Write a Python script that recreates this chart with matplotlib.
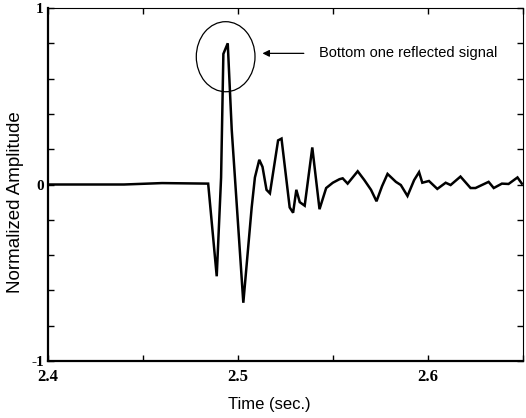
import matplotlib
matplotlib.use("Agg")
import matplotlib.pyplot as plt
from matplotlib.patches import Ellipse
from matplotlib import font_manager

time_s = [2.400, 2.440, 2.460, 2.4843, 2.4888, 2.4911, 2.4923, 2.4946, 2.4967,
          2.5028, 2.5072, 2.5089, 2.5112, 2.5129, 2.5150, 2.5168, 2.5211, 2.5229,
          2.5272, 2.5290, 2.5307, 2.5325, 2.5351, 2.5391, 2.5429, 2.5464, 2.5499,
          2.5534, 2.5551, 2.5577, 2.5630, 2.5665, 2.5700, 2.5729, 2.5758, 2.5787,
          2.5831, 2.5857, 2.5892, 2.5927, 2.5953, 2.5970, 2.6005, 2.6049, 2.6093,
          2.6119, 2.6171, 2.6224, 2.6250, 2.6319, 2.6346, 2.6389, 2.6424, 2.6471,
          2.6494]
amplitude = [0.0, 0.0, 0.008, 0.005, -0.52, 0.04, 0.74, 0.80, 0.31,
             -0.67, -0.13, 0.04, 0.14, 0.10, -0.03, -0.05, 0.25, 0.26,
             -0.13, -0.16, -0.03, -0.10, -0.12, 0.21, -0.14, -0.02, 0.01,
             0.03, 0.035, 0.005, 0.075, 0.025, -0.03, -0.095, -0.01, 0.06,
             0.015, -0.003, -0.065, 0.025, 0.07, 0.01, 0.02, -0.025, 0.01,
             -0.003, 0.045, -0.02, -0.02, 0.015, -0.02, 0.005, 0.003, 0.04,
             0.005]

x_ticks = [2.40, 2.45, 2.50, 2.55, 2.60, 2.65]
x_tick_labels = ["2.4", "", "2.5", "", "2.6", ""]
y_ticks = [-1.0, -0.8, -0.6, -0.4, -0.2, 0.0, 0.2, 0.4, 0.6, 0.8, 1.0]
y_tick_labels = ["-1", "", "", "", "", "0", "", "", "", "", "1"]
annotation_text = "Bottom one reflected signal"

installed = {f.name for f in font_manager.fontManager.ttflist}
sans = "Liberation Sans Narrow" if "Liberation Sans Narrow" in installed else "Liberation Sans"

fig = plt.figure(figsize=(5.26, 4.18), dpi=100)
ax = fig.add_axes([48/526, 1-361/418, (523-48)/526, (361-8)/418])

ax.plot(time_s, amplitude, color="black", lw=1.8, solid_joinstyle="miter")
ax.set_xlim(2.4, 2.65)
ax.set_ylim(-1, 1)

ax.set_xticks(x_ticks)
ax.set_xticklabels(x_tick_labels, fontfamily="Liberation Serif", fontweight="bold", fontsize=12)
ax.set_yticks(y_ticks)
ax.set_yticklabels(y_tick_labels, fontfamily="Liberation Serif", fontweight="bold", fontsize=11)
ax.tick_params(direction="in", length=4, width=1, top=True, right=True, pad=3)
ax.tick_params(axis="x", pad=6)

for s in ["left", "bottom"]:
    ax.spines[s].set_linewidth(1.6)
for s in ["top", "right"]:
    ax.spines[s].set_linewidth(0.8)

ax.set_xlabel("Time (sec.)", fontfamily=sans, fontsize=12)
ax.xaxis.set_label_coords(0.465, -0.102)
ax.set_ylabel("Normalized Amplitude", fontfamily=sans, fontsize=13.5)
ax.yaxis.set_label_coords(-0.05, 0.45)

ell = Ellipse((2.4935, 0.724), 0.0309, 0.397, fill=False, edgecolor="black", lw=0.9)
ax.add_patch(ell)
ax.annotate("", xy=(2.5114, 0.743), xytext=(2.5361, 0.743),
            arrowprops=dict(arrowstyle="-|>", color="black", lw=0.9, mutation_scale=10))
ax.text(2.5425, 0.743, annotation_text, fontfamily=sans, fontsize=10.5,
        va="center", ha="left")

fig.savefig("out.png", dpi=100)
